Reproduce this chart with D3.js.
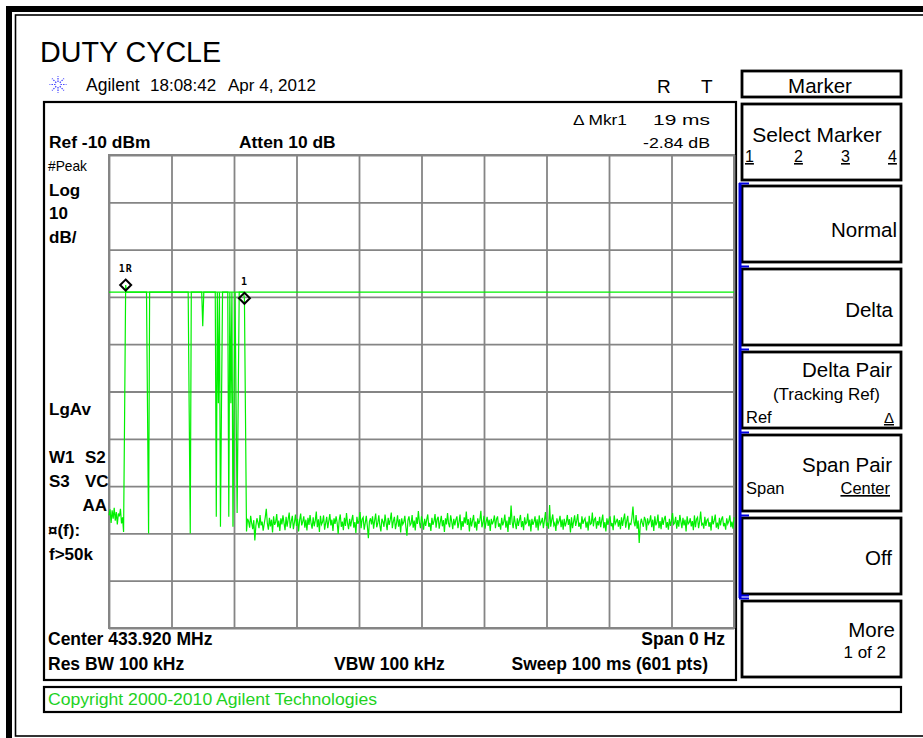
<!DOCTYPE html>
<meta charset="utf-8">
<style>
body { margin: 0; background: #fff; }
text { font-family: "Liberation Sans", Arial, sans-serif; fill: #000; }
.b { font-weight: bold; }
</style>
<script src="https://cdn.jsdelivr.net/npm/d3@7"></script>
<body>
<script>
// sweep settings
const sweepMs = 100;
const refDbm = -10;
const dbPerDiv = 10;
const divisions = 10;
const displayLineDbm = -39.0;

// trace, 601 points (dBm): noise before the burst, the burst, noise floor after it
const leadNoise = [-86.2,-84.9,-87.8,-85.1,-86.9,-84.6,-87.3,-85.5,-88.1,-85.8,-86.4,-84.8,-87.9,-86.6,-89.7];
const burst = [
  -64.5,-37.5,
  -39,-39,-39,-39,-39,-39,-39,-39,-39,-39,-39,-39,-39,-39,-39,-39,-39,-39,-39,-39,
  -64.5,-90.0,
  -39,-39,-39,-39,-39,-39,-39,-39,-39,-39,-39,-39,-39,-39,-39,-39,-39,-39,-39,
  -39,-39,-39,-39,-39,-39,-39,-39,-39,-39,-39,-39,-39,-39,-39,-39,-39,-39,-39,
  -64.5,-90.0,
  -39,-39,-39,-39,-39,-39,-39,-39,-39,-39,-39,
  -46.2,
  -39,-39,-39,-39,-39,-39,-39,-39,-39,-39,-39,-39,
  -86.5,-39,-62.5,-39,-88.6,-62.5,-39,
  -39,-39,-39,-39,-39,
  -86.5,-39,-62.5,-39,-88.6,-62.5,-39,-62.5,-85.7,-62.5,
  -39,-39,-39,-39,-39,
  -40.3,-64.6
];
const floorNoise = [
  -89.6,-86.9,-87.4,-88.8,-86.3,-87.9,-89.1,-87.2,-91.5,-88.4,-86.8,-87.7,-88.9,-86.1,-88.3,-87.5,-89.4,-88.0,-86.6,-84.8,
  -87.9,-89.2,-86.7,-88.5,-87.1,-89.8,-86.4,-88.2,-87.6,-85.9,-88.7,-87.3,-89.5,-86.8,-88.1,-86.2,-87.8,-89.3,-86.5,-88.6,
  -87.0,-85.6,-88.9,-87.4,-86.3,-89.1,-87.7,-86.0,-88.4,-86.9,-89.6,-87.2,-85.8,-88.3,-87.5,-86.4,-88.8,-87.1,-89.4,-86.7,
  -88.2,-86.1,-87.9,-89.0,-86.6,-88.5,-87.3,-85.4,-88.7,-87.0,-89.7,-86.3,-88.1,-87.6,-86.2,-89.2,-87.8,-86.5,-88.9,-87.4,
  -85.9,-88.3,-87.1,-89.5,-86.8,-88.0,-86.4,-87.7,-90.1,-87.2,-86.0,-88.6,-87.5,-89.3,-86.7,-88.4,-85.7,-87.9,-89.1,-86.9,
  -88.5,-87.2,-86.1,-88.8,-87.6,-89.9,-86.5,-88.0,-87.3,-85.5,-88.9,-87.0,-86.6,-89.2,-87.8,-86.3,-88.4,-91.0,-87.5,-86.8,
  -88.1,-86.4,-89.0,-87.3,-85.8,-88.7,-87.9,-86.2,-88.3,-89.6,-86.9,-87.5,-88.6,-86.0,-87.7,-89.3,-86.7,-88.2,-87.1,-85.6,
  -88.9,-87.4,-86.5,-89.1,-87.8,-86.2,-88.6,-87.0,-89.8,-86.8,-88.1,-87.6,-86.3,-88.7,-90.5,-87.2,-86.4,-88.3,-87.9,-86.1,
  -88.8,-87.3,-89.4,-86.6,-88.0,-85.3,-87.7,-88.9,-86.4,-87.5,-89.2,-86.9,-88.4,-87.1,-86.0,-88.6,-87.8,-89.5,-86.7,-88.2,
  -87.4,-85.9,-88.8,-87.0,-86.5,-89.0,-87.6,-86.3,-88.5,-87.2,-89.7,-86.8,-88.1,-85.7,-87.9,-88.7,-86.2,-87.5,-89.1,-86.9,
  -88.3,-87.1,-86.4,-88.9,-87.7,-86.0,-89.3,-87.4,-88.6,-86.6,-87.9,-85.4,-88.2,-87.0,-89.6,-86.7,-88.5,-87.3,-86.1,-88.8,
  -87.5,-89.4,-86.8,-88.0,-87.2,-85.2,-88.7,-87.8,-86.3,-89.0,-87.6,-86.5,-88.4,-87.1,-89.5,-86.9,-88.1,-87.4,-86.2,-88.9,
  -87.0,-86.4,-88.6,-87.9,-89.2,-86.7,-88.3,-87.5,-86.0,-88.8,-87.3,-89.7,-86.5,-88.2,-84.1,-87.6,-88.9,-86.3,-87.8,-89.1,
  -86.8,-88.4,-87.2,-86.1,-88.7,-87.4,-89.3,-86.6,-88.0,-87.7,-85.8,-88.5,-87.1,-89.6,-86.9,-88.2,-87.5,-86.4,-88.8,-87.0,
  -89.4,-86.2,-88.1,-87.6,-86.7,-88.9,-87.3,-85.5,-88.4,-87.9,-89.0,-84.0,-88.6,-87.2,-86.0,-88.3,-87.8,-89.5,-86.8,-88.0,
  -87.4,-86.3,-88.7,-87.1,-89.2,-86.9,-88.5,-87.6,-86.1,-88.2,-87.0,-89.8,-86.6,-88.9,-87.5,-86.2,-88.4,-87.3,-85.9,-88.6,
  -87.7,-89.1,-86.4,-88.0,-87.2,-86.8,-88.8,-87.5,-89.4,-86.3,-88.1,-87.9,-85.6,-88.5,-87.0,-86.7,-89.0,-87.4,-88.3,-86.5,
  -88.7,-87.3,-86.0,-88.9,-87.6,-89.6,-86.8,-88.2,-87.1,-86.4,-88.5,-87.8,-89.3,-86.2,-88.0,-87.5,-86.9,-88.6,-87.2,-89.1,
  -86.6,-88.4,-87.0,-85.8,-88.8,-87.4,-86.3,-89.2,-87.9,-88.1,-86.7,-84.3,-87.6,-88.5,-86.1,-89.0,-87.3,-92.0,-88.2,-86.9,
  -87.8,-88.6,-86.5,-87.2,-89.4,-86.8,-88.0,-87.5,-86.2,-88.7,-87.1,-89.5,-86.4,-88.3,-87.7,-86.0,-88.9,-87.4,-89.1,-86.6,
  -88.2,-87.0,-86.3,-88.8,-87.6,-89.2,-86.9,-88.4,-87.3,-85.7,-88.1,-87.8,-86.5,-89.0,-87.2,-88.6,-86.1,-87.5,-88.9,-86.7,
  -88.3,-87.1,-89.6,-86.4,-88.0,-87.7,-86.8,-88.5,-87.4,-89.3,-86.2,-88.7,-87.0,-86.6,-88.9,-87.5,-85.4,-88.2,-87.9,-89.0,
  -86.5,-88.4,-87.2,-86.9,-88.6,-87.6,-89.4,-86.3,-88.1,-87.3,-86.0,-88.8,-87.7,-89.1,-86.7,-88.3,-87.0,-86.4,-88.5,-87.8,
  -89.2,-86.8,-88.0,-87.4,-86.2,-88.7,-87.5,-89.0,-86.6
];
const trace = leadNoise.concat(burst, floorNoise);

// markers (sample index on the trace)
const markerLabels = ["1R", "1"];
const markerIndex = [16, 130];

const W = 923, H = 738;
const svg = d3.select("body").append("svg")
  .attr("width", W).attr("height", H);

// outer double frame
svg.append("rect").attr("x", 9).attr("y", 9).attr("width", 960).attr("height", 760)
  .attr("fill", "none").attr("stroke", "#000").attr("stroke-width", 6);
svg.append("rect").attr("x", 15.5).attr("y", 15).attr("width", 950).attr("height", 721)
  .attr("fill", "none").attr("stroke", "#000").attr("stroke-width", 1.6);

function txt(x, y, s, size, opts = {}) {
  const t = svg.append("text").attr("x", x).attr("y", y)
    .style("font-size", size + "px").text(s);
  if (opts.bold) t.attr("class", "b");
  if (opts.anchor) t.attr("text-anchor", opts.anchor);
  if (opts.fill) t.style("fill", opts.fill);
  if (opts.underline) t.style("text-decoration", "underline");
  if (opts.len) t.attr("textLength", opts.len).attr("lengthAdjust", "spacingAndGlyphs");
  return t;
}

// header
txt(40, 62, "DUTY CYCLE", 28.7);
// agilent spark
const spark = svg.append("g").attr("transform", "translate(58,84.5)");
d3.range(8).forEach(k => {
  const a = k * Math.PI / 4;
  spark.append("line")
    .attr("x1", 2.5 * Math.cos(a)).attr("y1", 2.5 * Math.sin(a))
    .attr("x2", 8.5 * Math.cos(a)).attr("y2", 8.5 * Math.sin(a))
    .attr("stroke", "#3a3aff").attr("stroke-width", 1.2)
    .attr("stroke-dasharray", "1.4,1.2");
});
txt(86, 91, "Agilent", 17.5);
txt(150, 91, "18:08:42", 17);
txt(228, 91, "Apr 4, 2012", 17);
txt(657, 93, "R", 19);
txt(701, 93, "T", 19);

// plot frame
svg.append("rect").attr("x", 44).attr("y", 102).attr("width", 692).attr("height", 578)
  .attr("fill", "none").attr("stroke", "#000").attr("stroke-width", 2.2);

// scales
const X0 = 109, X1 = 734, Y0 = 155, Y1 = 628;
const x = d3.scaleLinear().domain([0, sweepMs]).range([X0, X1]);
const y = d3.scaleLinear()
  .domain([refDbm - dbPerDiv * divisions, refDbm]).range([Y1, Y0]);

// graticule through the axes
const gx = svg.append("g").attr("transform", `translate(0,${Y1})`)
  .call(d3.axisBottom(x).ticks(divisions).tickSize(-(Y1 - Y0)).tickFormat(""));
const gy = svg.append("g").attr("transform", `translate(${X0},0)`)
  .call(d3.axisLeft(y).ticks(divisions).tickSize(-(X1 - X0)).tickFormat(""));
[gx, gy].forEach(g => {
  g.select(".domain").remove();
  g.selectAll("line").attr("stroke", "#858585").attr("stroke-width", 1.8);
});
svg.append("rect").attr("x", X0).attr("y", Y0).attr("width", X1 - X0).attr("height", Y1 - Y0)
  .attr("fill", "none").attr("stroke", "#858585").attr("stroke-width", 2);

// display line + trace
svg.append("line").attr("x1", X0).attr("x2", X1)
  .attr("y1", y(displayLineDbm)).attr("y2", y(displayLineDbm))
  .attr("stroke", "#00f000").attr("stroke-width", 1.3);
const tOf = i => i * sweepMs / (trace.length - 1);
svg.append("path").datum(trace)
  .attr("fill", "none").attr("stroke", "#00f000").attr("stroke-width", 1.2)
  .attr("d", d3.line().x((d, i) => x(tOf(i))).y(d => y(d)));

// markers
markerIndex.forEach((idx, k) => {
  const mx = x(tOf(idx)), my = y(trace[idx]);
  svg.append("path")
    .attr("d", `M${mx},${my - 5.5}L${mx + 5.5},${my}L${mx},${my + 5.5}L${mx - 5.5},${my}Z`)
    .attr("fill", "none").attr("stroke", "#000").attr("stroke-width", 2);
  svg.append("text").attr("x", mx).attr("y", my - 13.5)
    .attr("text-anchor", "middle")
    .style("font-family", "DejaVu Sans Mono, monospace")
    .style("font-size", "10px").style("font-weight", "bold").style("letter-spacing", "1px")
    .text(markerLabels[k]);
});

// annotation text inside the frame
txt(49, 148, "Ref -10 dBm", 17.4, { bold: true });
txt(239, 148, "Atten 10 dB", 17.4, { bold: true });
txt(573, 125, "\u0394 Mkr1", 15.5, { len: 54 });
txt(653, 125, "19 ms", 15.5, { len: 57 });
txt(643, 148, "-2.84 dB", 15.5, { len: 67 });
txt(48, 171, "#Peak", 15, { len: 39 });
txt(49, 196, "Log", 17, { bold: true });
txt(49, 219, "10", 17, { bold: true });
txt(49, 243, "dB/", 17, { bold: true });
txt(49, 415, "LgAv", 17, { bold: true });
txt(49, 463, "W1", 17, { bold: true });
txt(85, 463, "S2", 17, { bold: true });
txt(49, 487, "S3", 17, { bold: true });
txt(85, 487, "VC", 17, { bold: true });
txt(107, 511, "AA", 17, { bold: true, anchor: "end" });
txt(48, 536, "\u00a4(f):", 17, { bold: true });
txt(49, 560, "f>50k", 17, { bold: true });

txt(48, 645, "Center 433.920 MHz", 17.5, { bold: true });
txt(725, 645, "Span 0 Hz", 17.5, { bold: true, anchor: "end" });
txt(48, 670, "Res BW 100 kHz", 17.5, { bold: true });
txt(334, 670, "VBW 100 kHz", 17.5, { bold: true });
txt(708, 670, "Sweep 100 ms (601 pts)", 17.5, { bold: true, anchor: "end" });

// copyright bar
svg.append("rect").attr("x", 44).attr("y", 687).attr("width", 857).attr("height", 25)
  .attr("fill", "none").attr("stroke", "#000").attr("stroke-width", 2.2);
txt(48, 705, "Copyright 2000-2010 Agilent Technologies", 16, { fill: "#1ed21e", len: 329 });

// softkey panel
const keyLeft = 742, keyRight = 901;
function keyBox(top, bottom) {
  svg.append("rect").attr("x", keyLeft).attr("y", top)
    .attr("width", keyRight - keyLeft).attr("height", bottom - top)
    .attr("fill", "#fff").attr("stroke", "#000").attr("stroke-width", 2.8);
}
keyBox(71, 97);
txt(820, 93, "Marker", 20.5, { anchor: "middle" });

const keyTops = [104, 186, 269, 352, 435, 518, 601];
const keyH = 76;
keyTops.forEach(t => keyBox(t, t + keyH));

// blue selection rail
const rail = svg.append("g").attr("stroke", "#0000e0");
rail.append("line").attr("x1", 740).attr("x2", 740).attr("y1", 183).attr("y2", 598)
  .attr("stroke-width", 3);
keyTops.slice(1).concat([598]).forEach(t => {
  rail.append("line").attr("x1", 739).attr("x2", 749)
    .attr("y1", t - 2.5).attr("y2", t - 2.5).attr("stroke-width", 2);
});

txt(817, 142, "Select Marker", 21, { anchor: "middle" });
["1", "2", "3", "4"].forEach((s, k) => {
  txt([745, 794, 841, 888][k], 162, s, 16, { underline: true });
});
txt(897, 237, "Normal", 20.5, { anchor: "end" });
txt(893, 317, "Delta", 20.5, { anchor: "end" });
txt(892, 377, "Delta Pair", 20.5, { anchor: "end" });
txt(880, 400, "(Tracking Ref)", 17, { anchor: "end" });
txt(746, 423, "Ref", 16.5);
txt(894, 423, "\u0394", 15, { anchor: "end", underline: true });
txt(892, 472, "Span Pair", 20.5, { anchor: "end" });
txt(746, 494, "Span", 16.5);
txt(890, 494, "Center", 16.5, { anchor: "end", underline: true });
txt(892, 565, "Off", 20.5, { anchor: "end" });
txt(895, 637, "More", 20.5, { anchor: "end" });
txt(886, 658, "1 of 2", 17, { anchor: "end" });
</script>
</body>
</html>
